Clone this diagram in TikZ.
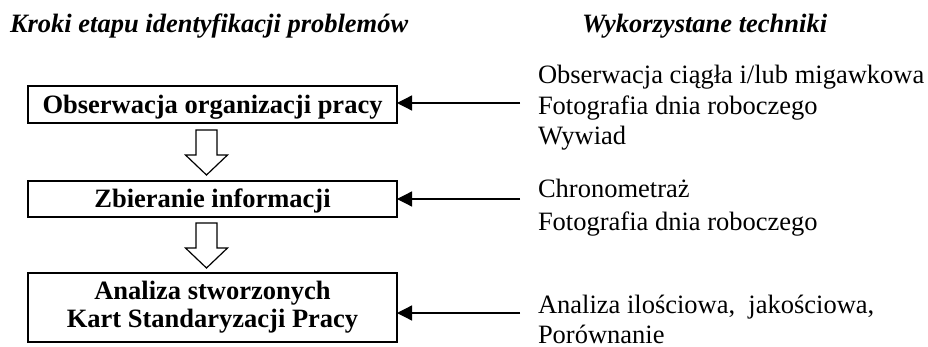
\documentclass[tikz,border=0pt]{standalone}
\usepackage{fontspec}
\setmainfont{Liberation Serif}
\usetikzlibrary{arrows.meta,calc}
\begin{document}
\begin{tikzpicture}[x=1pt,y=-1pt,
  every node/.style={inner sep=0pt,outer sep=0pt},
  txt/.style={anchor=base west,font=\fontsize{26.5}{31}\selectfont},
  ttl/.style={anchor=base west,font=\fontsize{26.5}{31}\selectfont\bfseries\itshape},
  stepbox/.style={draw,line width=1.6pt,minimum width=369pt,align=center,
    font=\fontsize{26.5}{28}\selectfont\bfseries},
  feed/.style={line width=1.3pt,-{Triangle[length=15pt,width=15pt]}},
  hollow/.style={draw,line width=1.2pt,fill=white,line join=miter}]
\useasboundingbox (0,0) rectangle (928,347);

% titles
\node[ttl] (t1) at (10,33) {Kroki etapu identyfikacji problemów};
\node[ttl] (t2) at (582,33) {Wykorzystane techniki};

% step boxes
\node[stepbox,minimum height=37pt,text height=17.5pt,text depth=0pt] (b1) at (212.5,104.5) {Obserwacja organizacji pracy};
\node[stepbox,minimum height=36pt,text height=17.5pt,text depth=0pt] (b2) at (212.5,199) {Zbieranie informacji};
\node[stepbox,minimum height=69pt] (b3) at (212.5,307.5) {Analiza stworzonych\\Kart Standaryzacji Pracy};

% hollow block arrows
\coordinate (a1) at (206.5,130);
\coordinate (a2) at (206.5,223);
\foreach \a in {a1,a2}
  \draw[hollow] (\a) -- ++(10.5,0) -- ++(0,25) -- ++(10.5,0) -- ++(-21,20)
    -- ++(-21,-20) -- ++(10.5,0) -- ++(0,-25) -- cycle;

% techniques
\node[txt] (r11) at (538,84) {Obserwacja ciągła i/lub migawkowa};
\node[txt] (r12) at (538,114.5) {Fotografia dnia roboczego};
\node[txt] (r13) at (538,145) {Wywiad};
\node[txt] (r21) at (538,198) {Chronometraż};
\node[txt] (r22) at (538,230) {Fotografia dnia roboczego};
\node[txt] (r31) at (538,313) {Analiza ilościowa,\ \ jakościowa,};
\node[txt] (r32) at (538,343) {Porównanie};

% feed arrows
\coordinate (c1) at (520,103);
\coordinate (c2) at (520,199);
\coordinate (c3) at (520,313);
\draw[feed] (c1) -- (c1 -| b1.east);
\draw[feed] (c2) -- (c2 -| b2.east);
\draw[feed] (c3) -- (c3 -| b3.east);
\end{tikzpicture}
\end{document}
